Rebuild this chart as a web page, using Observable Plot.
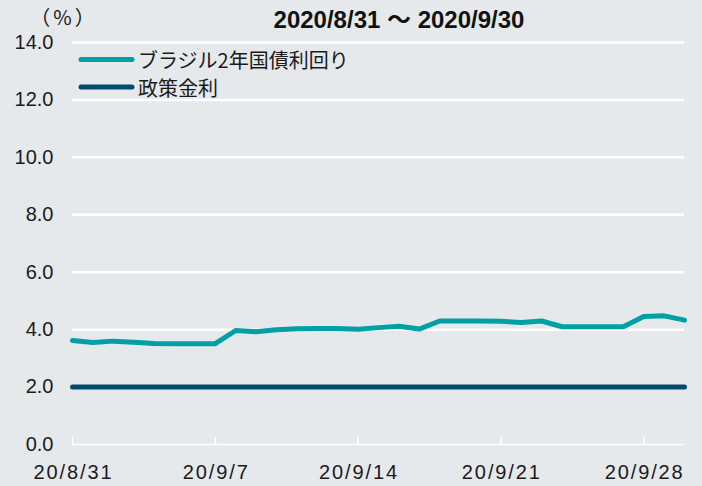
<!DOCTYPE html>
<html><head><meta charset="utf-8">
<script src="https://cdn.jsdelivr.net/npm/d3@7"></script>
<script src="https://cdn.jsdelivr.net/npm/@observablehq/plot@0.6"></script>
<style>
html,body{margin:0;padding:0;background:#e5e9ec;}
#chart{width:702px;height:486px;}
</style></head><body><div id="chart"></div>
<script>
const dates = ["2020-08-31","2020-09-01","2020-09-02","2020-09-03","2020-09-04","2020-09-05","2020-09-06","2020-09-07",
  "2020-09-08","2020-09-09","2020-09-10","2020-09-11","2020-09-12","2020-09-13","2020-09-14","2020-09-15",
  "2020-09-16","2020-09-17","2020-09-18","2020-09-19","2020-09-20","2020-09-21","2020-09-22","2020-09-23",
  "2020-09-24","2020-09-25","2020-09-26","2020-09-27","2020-09-28","2020-09-29","2020-09-30"];
const bondYield = [3.62,3.55,3.60,3.56,3.52,3.51,3.51,3.51,
  3.97,3.93,4.00,4.03,4.04,4.04,4.01,4.07,
  4.12,4.02,4.30,4.30,4.30,4.29,4.25,4.30,
  4.10,4.10,4.10,4.10,4.46,4.48,4.33];
const policyRate = [2.0,2.0,2.0,2.0,2.0,2.0,2.0,2.0,2.0,2.0,2.0,2.0,2.0,2.0,2.0,2.0,
  2.0,2.0,2.0,2.0,2.0,2.0,2.0,2.0,2.0,2.0,2.0,2.0,2.0,2.0,2.0];
const xTickDates = ["2020-08-31","2020-09-07","2020-09-14","2020-09-21","2020-09-28"];
const xTickLabels = ["20/8/31","20/9/7","20/9/14","20/9/21","20/9/28"];
const yTicks = [0,2,4,6,8,10,12,14];
const seriesNames = ["ブラジル2年国債利回り","政策金利"];
const seriesColors = ["#00a0a6","#004a70"];
const title = "2020/8/31 ～ 2020/9/30";
const unitLabel = "（%）";

const parse = d3.utcParse("%Y-%m-%d");
const rows = [];
dates.forEach((d, i) => {
  rows.push({date: parse(d), value: bondYield[i], series: seriesNames[0]});
  rows.push({date: parse(d), value: policyRate[i], series: seriesNames[1]});
});
const xt = xTickDates.map(parse);
const labelOf = new Map(xt.map((d, i) => [+d, xTickLabels[i]]));

const plot = Plot.plot({
  width: 702, height: 486,
  marginLeft: 72, marginRight: 18, marginTop: 42, marginBottom: 42,
  style: {background: "#e5e9ec", fontFamily: "'Liberation Sans', Arial, sans-serif", fontSize: "20px", color: "#1a1a1a"},
  x: {type: "utc", domain: [parse(dates[0]), parse(dates[dates.length - 1])]},
  y: {domain: [0, 14]},
  color: {domain: seriesNames, range: seriesColors},
  marks: [
    Plot.ruleY(yTicks.filter(v => v > 0), {stroke: "#ffffff", strokeWidth: 2.5}),
    Plot.ruleY([0], {stroke: "#ffffff", strokeWidth: 1.5}),
    Plot.ruleX(xt, {x: d => d, y1: 0, y2: 0, insetTop: -7, stroke: "#ffffff", strokeWidth: 1.5}),
    Plot.axisY({ticks: yTicks, tickSize: 0, tickPadding: 19, tickFormat: d3.format(".1f"), label: null, fontSize: 20}),
    Plot.axisX({ticks: xt, tickSize: 0, tickPadding: 20, tickFormat: d => labelOf.get(+d), label: null, fontSize: 20}),
    Plot.line(rows, {x: "date", y: "value", z: "series", stroke: "series", strokeWidth: 5, strokeLinecap: "round", strokeLinejoin: "round"})
  ]
});
document.getElementById("chart").appendChild(plot);

const svg = d3.select(plot);
// widen x tick labels slightly (reference uses wide slashes)
svg.selectAll("text").filter(function() { return xTickLabels.includes(this.textContent); }).each(function() {
  const w = this.getComputedTextLength();
  this.setAttribute("textLength", (w * 1.17).toFixed(1));
  this.setAttribute("lengthAdjust", "spacing");
});
svg.append("text")
  .attr("x", 399).attr("y", 28)
  .attr("text-anchor", "middle")
  .attr("font-family", "'Liberation Sans', Arial, 'Noto Sans CJK JP', sans-serif")
  .attr("font-weight", "bold").attr("font-size", 24).attr("fill", "#111")
  .text(title);
svg.append("text")
  .attr("x", 64).attr("y", 25)
  .attr("text-anchor", "middle")
  .attr("font-family", "'Noto Sans CJK JP', sans-serif")
  .attr("font-size", 20).attr("fill", "#1a1a1a")
  .attr("letter-spacing", 3)
  .text(unitLabel);
const leg = svg.append("g").attr("text-anchor", "start");
seriesNames.forEach((name, i) => {
  const cy = 59.5 + i * 27.5;
  leg.append("line").attr("x1", 81).attr("x2", 132).attr("y1", cy).attr("y2", cy)
    .attr("stroke", seriesColors[i]).attr("stroke-width", 5).attr("stroke-linecap", "round");
  leg.append("text").attr("x", 138).attr("y", cy + 8.5)
    .attr("text-anchor", "start")
    .attr("font-family", "'Noto Sans CJK JP', sans-serif")
    .attr("font-size", 20).attr("fill", "#1a1a1a")
    .text(name);
});
</script>
</body></html>
